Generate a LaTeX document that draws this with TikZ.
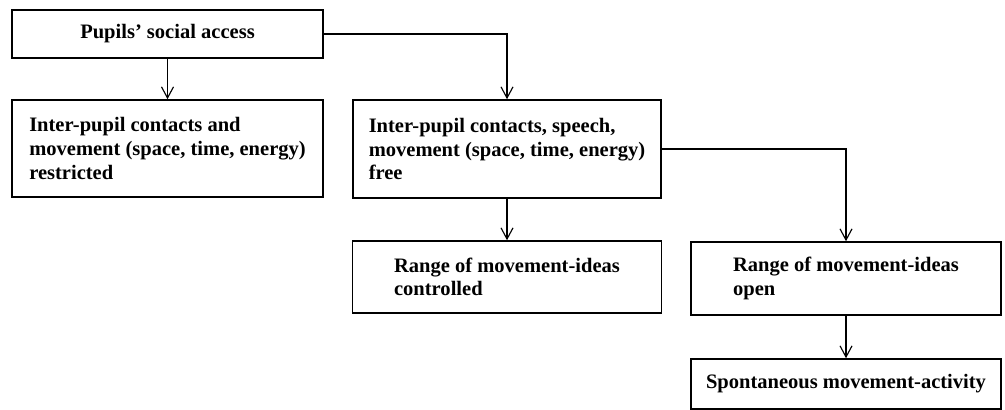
\documentclass[tikz,border=0pt]{standalone}
\usepackage{fontspec}
\setmainfont{Liberation Serif}
\usetikzlibrary{arrows.meta}

\begin{document}
\begin{tikzpicture}[x=0.025cm, y=-0.025cm,
  pbox/.style={draw, line width=1.1pt, rectangle, align=left, inner xsep=0pt,
    minimum width=7.75cm, font=\fontsize{14.6}{16.8}\selectfont\bfseries},
  link/.style={line width=0.8pt, -{Straight Barb[length=0.28cm, width=0.3cm]}}]

\useasboundingbox (0,0) rectangle (1005,409);

% -------- Boxes -----------
\node [pbox, minimum width=7.775cm, minimum height=1.2cm]   (access)     at (167.5, 34)  {Pupils' social access};
\node [pbox, minimum width=7.775cm, minimum height=2.425cm] (restricted) at (167.5, 148.5) {Inter-pupil contacts and\\movement (space, time, energy)\\restricted};
\node [pbox, minimum width=7.7cm, minimum height=2.45cm]    (free)       at (507, 149)   {Inter-pupil contacts, speech,\\movement (space, time, energy)\\free};
\node [pbox, minimum width=7.725cm, minimum height=1.8cm]   (controlled) at (507, 277)   {Range of movement-ideas\\controlled};
\node [pbox, minimum height=1.825cm]                        (open)       at (846, 278.5) {Range of movement-ideas\\open};
\node [pbox, minimum height=1.25cm]                         (activity)   at (846, 384)   {Spontaneous movement-activity};

% -------- Connectors -----------
\draw [link] (access.south) -- (restricted.north);
\draw [link] (access.east) -| (free.north);

% Second row
\draw [link] (free.south) -- (controlled.north);
\draw [link] (free.east) -| (open.north);

% Third row
\draw [link] (open.south) -- (activity.north);

\end{tikzpicture}
\end{document}
